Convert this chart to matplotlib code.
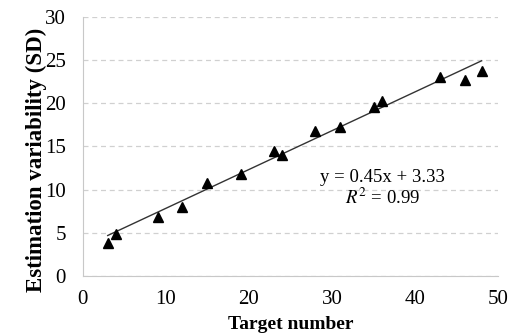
import numpy as np
import matplotlib
matplotlib.use("Agg")
import matplotlib.pyplot as plt

# Werte
target = [3, 4, 9, 12, 15, 19, 23, 24, 28, 31, 35, 36, 43, 46, 48]
sd = [3.8, 4.9, 6.8, 8.0, 10.8, 11.8, 14.5, 14.0, 16.8, 17.3, 19.6, 20.3, 23.1, 22.7, 23.8]
slope = 0.45
intercept = 3.33

plt.rcParams["font.family"] = ["Liberation Serif", "DejaVu Serif"]
plt.rcParams["mathtext.fontset"] = "stix"

fig = plt.figure(figsize=(5.11, 3.34), dpi=100)
ax = fig.add_axes([0.162, 0.174, 0.813, 0.775])

# Trendlinie
xl = np.array([min(target), max(target)])
ax.plot(xl, slope*xl + intercept, color="#333333", lw=1.0, zorder=2)
ax.plot(target, sd, "^", color="black", ms=7.5, zorder=3)

ax.set_xlim(0, 50)
ax.set_ylim(0, 30)
ax.set_xticks(range(0, 51, 10))
ax.set_yticks(range(0, 31, 5))
ax.yaxis.grid(True, ls=(0, (4, 3)), color="#d0d0d0", lw=0.9)
ax.set_axisbelow(True)
for s in ["top", "right"]:
    ax.spines[s].set_visible(False)
for s in ["left", "bottom"]:
    ax.spines[s].set_color("#c8c8c8")
ax.tick_params(length=0, labelsize=15)
ax.tick_params(axis="x", pad=10)
ax.tick_params(axis="y", pad=12)

ax.set_xlabel("Target number", fontsize=14, fontweight="bold", labelpad=5)
ax.set_ylabel("Estimation variability (SD)", fontsize=16.5, fontweight="bold", va="center")
ax.yaxis.set_label_coords(-0.112, 0.45)

ax.text(36.1, 11.35, "y = 0.45x + 3.33", fontsize=13.5, ha="center", va="center",
        bbox=dict(fc="white", ec="none", pad=1))
ax.text(36.1, 9.0, "$\\mathit{R}^2$ = 0.99", fontsize=13.5, ha="center", va="center")

plt.savefig("out.png", dpi=100)
